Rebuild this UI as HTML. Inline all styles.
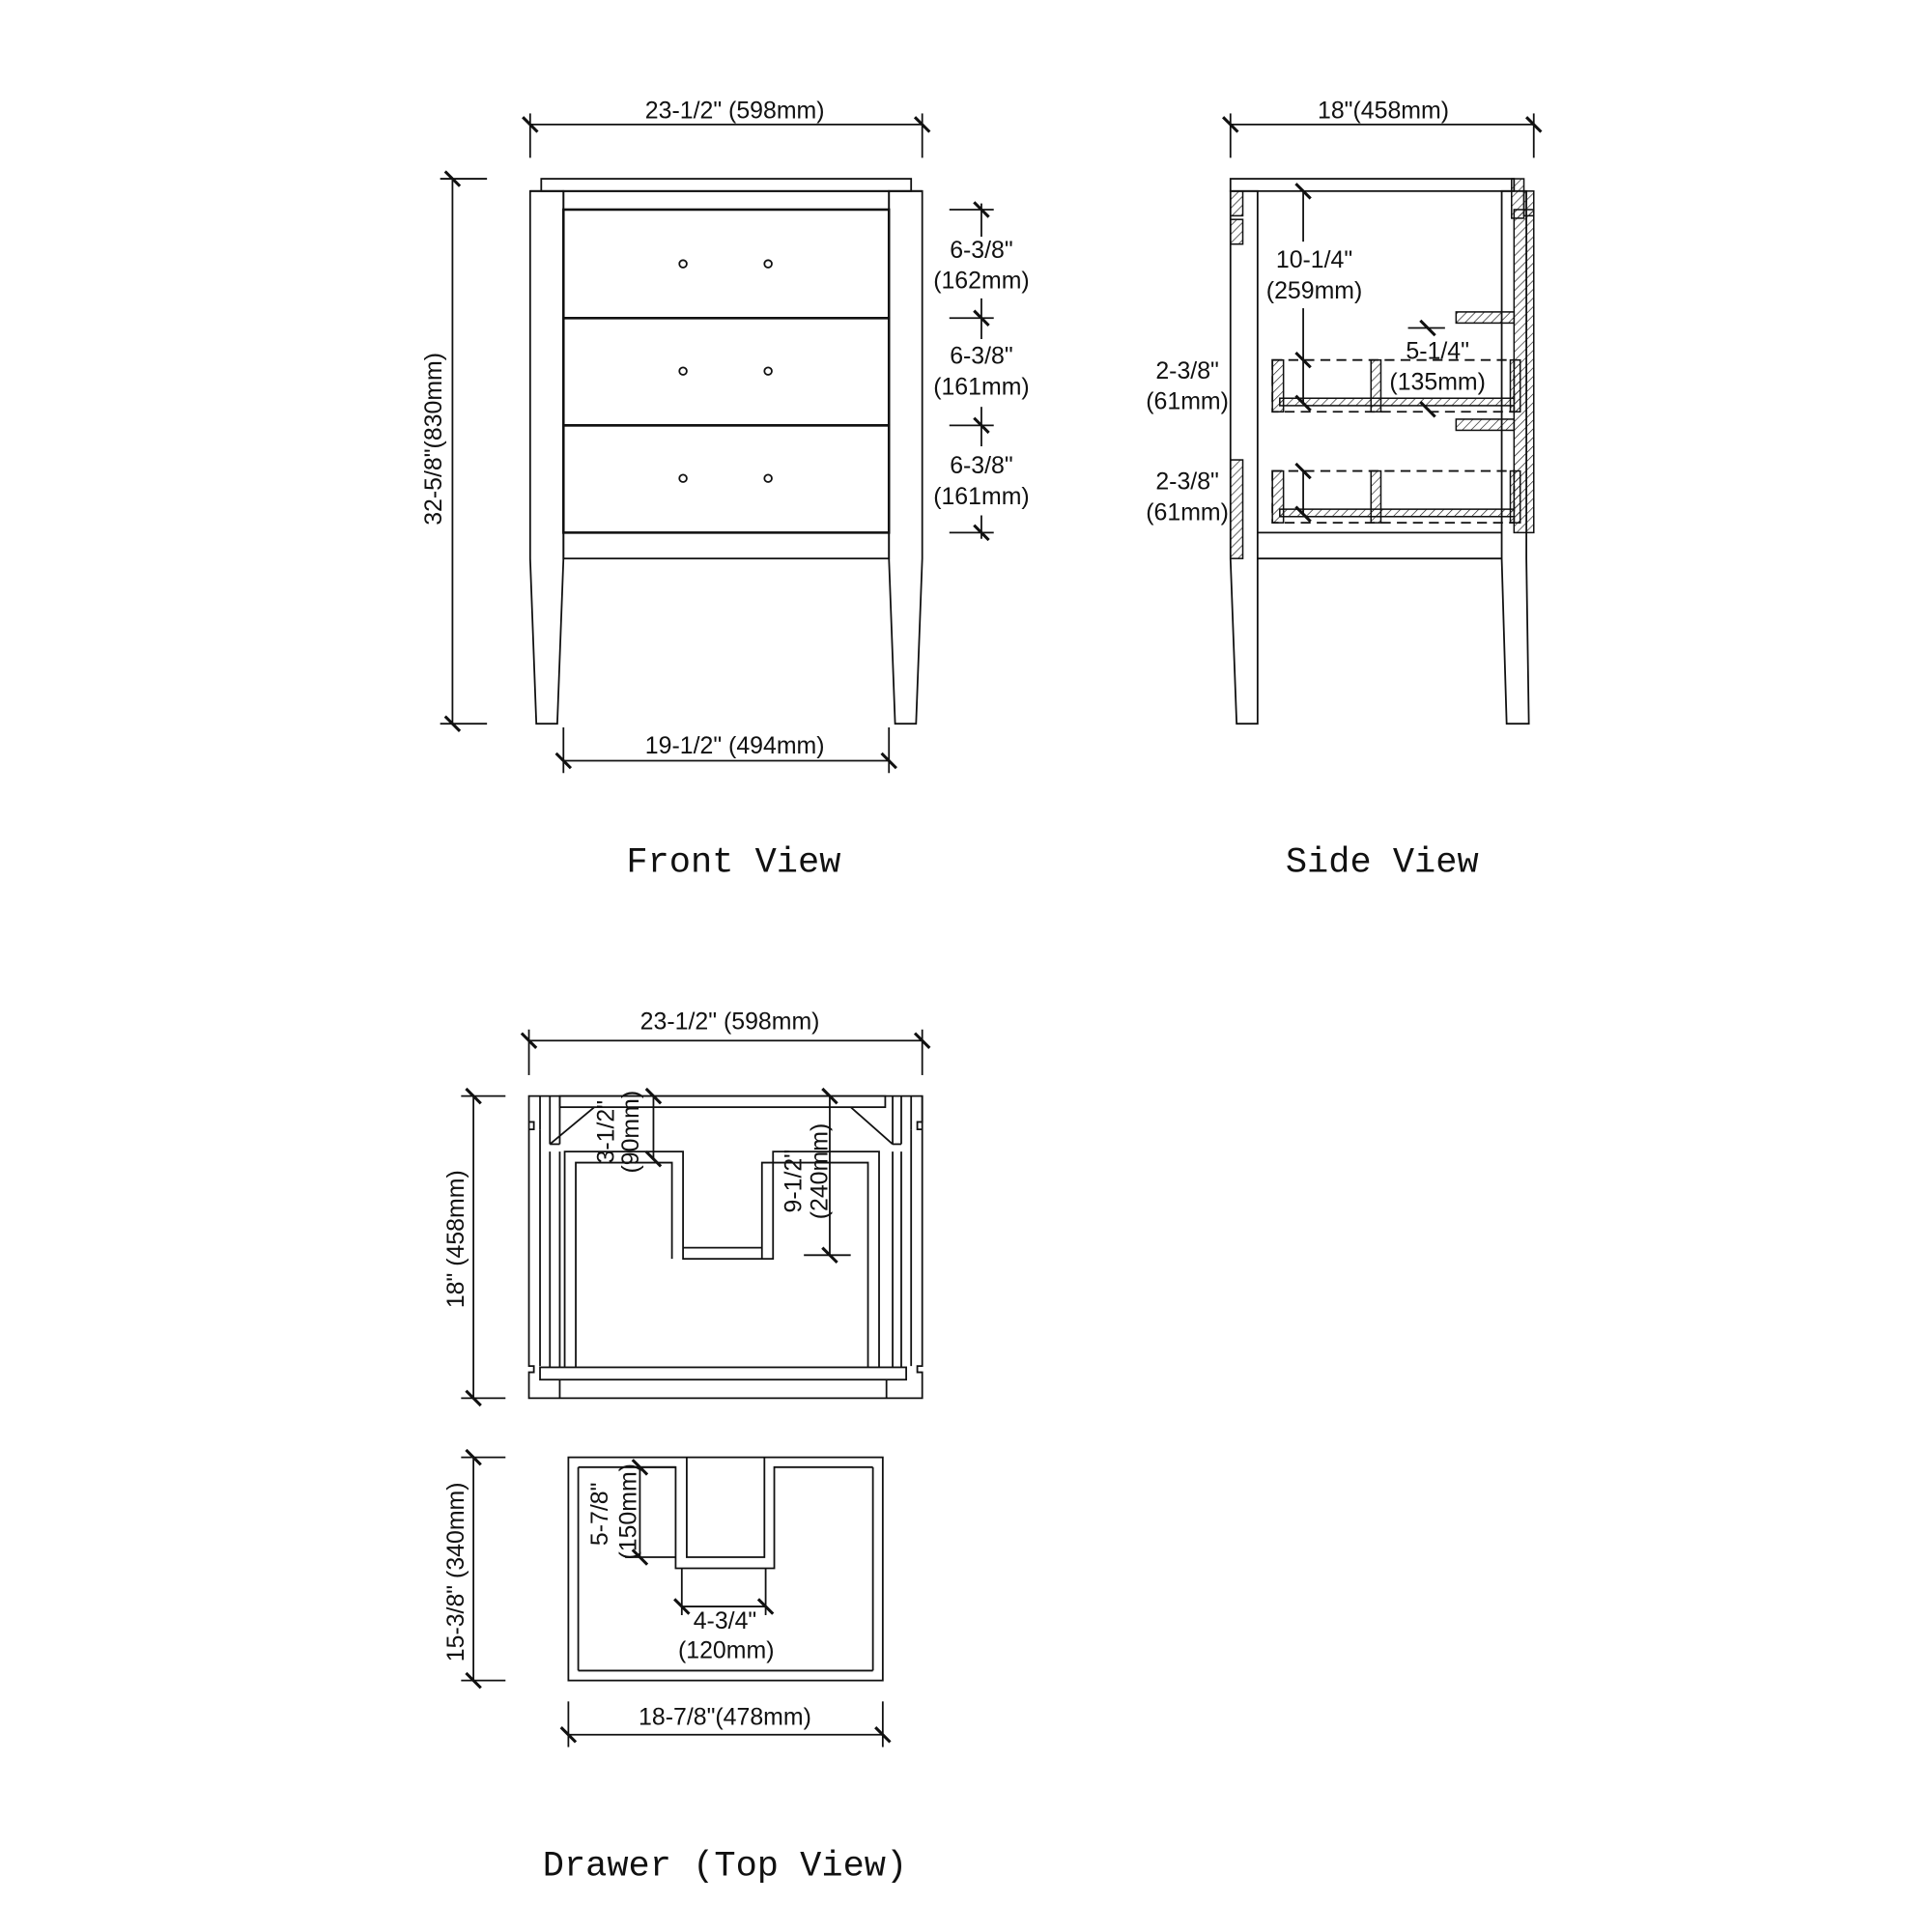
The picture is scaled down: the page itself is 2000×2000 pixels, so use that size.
<!DOCTYPE html>
<html><head><meta charset="utf-8"><style>
html,body{margin:0;padding:0;background:#fff}
svg{display:block}
text{font-family:"Liberation Sans",sans-serif;font-size:19.5px;fill:#111}
.t{font-family:"Liberation Mono",monospace;font-size:29px}
</style></head><body>
<svg width="2000" height="2000" viewBox="0 0 1567 1567" xmlns="http://www.w3.org/2000/svg">
<defs>
<pattern id="h" width="5" height="5" patternUnits="userSpaceOnUse" patternTransform="rotate(45)">
<line x1="0" y1="0" x2="0" y2="5" stroke="#111" stroke-width="1"/></pattern>
</defs>
<g fill="none" stroke="#111" stroke-width="1.4">
<rect x="439" y="145" width="300" height="10"/>
<polyline points="430,155 748,155"/>
<polygon points="430,155 457,155 457,453 452,587 435,587 430,453"/>
<polygon points="721,155 748,155 748,453 743,587 726,587 721,453"/>
<rect x="457" y="155" width="264" height="298"/>
<rect x="457" y="170" width="264" height="88" stroke-width="2"/>
<rect x="457" y="258" width="264" height="87" stroke-width="2"/>
<rect x="457" y="345" width="264" height="87" stroke-width="2"/>
<circle cx="554" cy="214" r="3"/><circle cx="623" cy="214" r="3"/>
<circle cx="554" cy="301" r="3"/><circle cx="623" cy="301" r="3"/>
<circle cx="554" cy="388" r="3"/><circle cx="623" cy="388" r="3"/>
<line x1="430" y1="101" x2="748" y2="101"/><line x1="430" y1="92" x2="430" y2="128"/><line x1="748" y1="92" x2="748" y2="128"/>
<line x1="357" y1="145" x2="395" y2="145"/><line x1="357" y1="587" x2="395" y2="587"/><line x1="367" y1="145" x2="367" y2="587"/>
<line x1="457" y1="590" x2="457" y2="627"/><line x1="721" y1="590" x2="721" y2="627"/><line x1="457" y1="617" x2="721" y2="617"/>
<line x1="770" y1="170" x2="806" y2="170"/><line x1="770" y1="258" x2="806" y2="258"/><line x1="770" y1="345" x2="806" y2="345"/><line x1="770" y1="432" x2="806" y2="432"/>
<line x1="796" y1="165" x2="796" y2="192"/><line x1="796" y1="242" x2="796" y2="275"/><line x1="796" y1="330" x2="796" y2="362"/><line x1="796" y1="418" x2="796" y2="437"/>
<rect x="998" y="145" width="230" height="10"/>
<polygon points="998,155 1020,155 1020,453 1020,587 1003,587 998,453"/>
<polygon points="1218,155 1238,155 1238,453 1240,587 1222,587 1218,453"/>
<line x1="1020" y1="453" x2="1218" y2="453"/>
<line x1="1020" y1="432" x2="1218" y2="432"/>
<line x1="998" y1="101" x2="1244" y2="101"/><line x1="998" y1="92" x2="998" y2="128"/><line x1="1244" y1="92" x2="1244" y2="128"/>
<line x1="1057" y1="155" x2="1057" y2="196"/><line x1="1057" y1="250" x2="1057" y2="328"/>
<line x1="1142" y1="266" x2="1172" y2="266"/>
<line x1="1057" y1="382" x2="1057" y2="418"/>
<g stroke-dasharray="8,5">
<rect x="1032" y="292" width="196" height="42"/>
<rect x="1032" y="382" width="196" height="42"/>
</g>
</g>
<g fill="url(#h)" stroke="#111" stroke-width="1.2">
<rect x="998" y="155" width="10" height="20"/><rect x="998" y="178" width="10" height="20"/>
<rect x="998" y="373" width="10" height="80"/>
<rect x="1226" y="145" width="10" height="32"/>
<rect x="1236" y="155" width="8" height="20"/>
<rect x="1228" y="170" width="16" height="262"/>
<rect x="1181" y="253" width="47" height="9"/><rect x="1181" y="340" width="47" height="9"/>
<rect x="1032" y="292" width="9" height="42"/><rect x="1112" y="292" width="8" height="42"/><rect x="1225" y="292" width="8" height="42"/>
<rect x="1038" y="323" width="190" height="6"/>
<rect x="1032" y="382" width="9" height="42"/><rect x="1112" y="382" width="8" height="42"/><rect x="1225" y="382" width="8" height="42"/>
<rect x="1038" y="413" width="190" height="6"/>
</g>
<g fill="none" stroke="#111" stroke-width="1.4">
<path d="M429,889 H748 V1108 H744 V1113 H748 V1134 H429 V1113 H433 V1108 H429 Z M429,889 V910 H433 V916 H429"/>
<path d="M748,889 V910 H744 V916 H748"/>
<line x1="438" y1="916" x2="438" y2="1108"/><line x1="739" y1="916" x2="739" y2="1108"/>
<line x1="438" y1="889" x2="438" y2="916"/><line x1="739" y1="889" x2="739" y2="916"/>
<rect x="438" y="1109" width="297" height="10"/>
<line x1="454" y1="1119" x2="454" y2="1134"/><line x1="719" y1="1119" x2="719" y2="1134"/>
<rect x="454" y="889" width="264" height="9"/>
<line x1="446" y1="889" x2="446" y2="928"/><line x1="446" y1="934" x2="446" y2="1109"/>
<line x1="454" y1="889" x2="454" y2="928"/><line x1="454" y1="934" x2="454" y2="1109"/>
<line x1="724" y1="889" x2="724" y2="928"/><line x1="724" y1="934" x2="724" y2="1109"/>
<line x1="731" y1="889" x2="731" y2="928"/><line x1="731" y1="934" x2="731" y2="1109"/>
<line x1="446" y1="928" x2="454" y2="928"/><line x1="724" y1="928" x2="731" y2="928"/>
<line x1="446" y1="928" x2="482" y2="898"/><line x1="690" y1="898" x2="724" y2="928"/>
<path d="M458,1109 V934 H554 V1021 H627 V934 H713 V1109"/>
<path d="M467,1109 V943 H545 V1021 M554,1012 H618 V943 H704 V1109 M618,1012 V1021"/>
<line x1="530" y1="889" x2="530" y2="940"/>
<line x1="673" y1="889" x2="673" y2="1018"/><line x1="652" y1="1018" x2="690" y2="1018"/>
<line x1="429" y1="844" x2="748" y2="844"/><line x1="429" y1="835" x2="429" y2="872"/><line x1="748" y1="835" x2="748" y2="872"/>
<line x1="374" y1="889" x2="410" y2="889"/><line x1="374" y1="1134" x2="410" y2="1134"/><line x1="384" y1="889" x2="384" y2="1134"/>
<rect x="461" y="1182" width="255" height="181"/>
<line x1="469" y1="1190" x2="469" y2="1355"/><line x1="708" y1="1190" x2="708" y2="1355"/>
<line x1="469" y1="1355" x2="708" y2="1355"/>
<path d="M469,1190 H548 V1272 H628 V1190 H708"/>
<path d="M557,1182 V1263 H620 V1182"/>
<line x1="507" y1="1190" x2="548" y2="1190"/><line x1="519" y1="1190" x2="519" y2="1263"/><line x1="507" y1="1263" x2="548" y2="1263"/>
<line x1="553" y1="1272" x2="553" y2="1310"/><line x1="621" y1="1272" x2="621" y2="1310"/><line x1="553" y1="1303" x2="621" y2="1303"/>
<line x1="461" y1="1380" x2="461" y2="1417"/><line x1="716" y1="1380" x2="716" y2="1417"/><line x1="461" y1="1407" x2="716" y2="1407"/>
<line x1="374" y1="1182" x2="410" y2="1182"/><line x1="374" y1="1363" x2="410" y2="1363"/><line x1="384" y1="1182" x2="384" y2="1363"/>
</g>
<g stroke="#111" stroke-width="2.4">
<path d="M424,95 l12,12 M742,95 l12,12 M361,139 l12,12 M361,581 l12,12 M451,611 l12,12 M715,611 l12,12
M790,164 l12,12 M790,252 l12,12 M790,339 l12,12 M790,426 l12,12
M992,95 l12,12 M1238,95 l12,12 M1051,149 l12,12 M1051,286 l12,12 M1051,321 l12,12 M1152,260 l12,12 M1152,326 l12,12
M1051,376 l12,12 M1051,411 l12,12
M423,838 l12,12 M742,838 l12,12 M378,883 l12,12 M378,1128 l12,12 M524,883 l12,12 M524,934 l12,12 M667,883 l12,12 M667,1012 l12,12
M378,1176 l12,12 M378,1357 l12,12 M513,1184 l12,12 M513,1257 l12,12 M547,1297 l12,12 M615,1297 l12,12
M455,1401 l12,12 M710,1401 l12,12"/>
</g>
<text x="596" y="96" text-anchor="middle">23-1/2" (598mm)</text>
<text x="358" y="356" text-anchor="middle" transform="rotate(-90 358 356)">32-5/8"(830mm)</text>
<text x="596" y="611" text-anchor="middle">19-1/2" (494mm)</text>
<text x="796" y="209" text-anchor="middle">6-3/8"</text><text x="796" y="234" text-anchor="middle">(162mm)</text>
<text x="796" y="295" text-anchor="middle">6-3/8"</text><text x="796" y="320" text-anchor="middle">(161mm)</text>
<text x="796" y="384" text-anchor="middle">6-3/8"</text><text x="796" y="409" text-anchor="middle">(161mm)</text>
<text x="1122" y="96" text-anchor="middle">18"(458mm)</text>
<text x="1066" y="217" text-anchor="middle">10-1/4"</text><text x="1066" y="242" text-anchor="middle">(259mm)</text>
<text x="1166" y="291" text-anchor="middle">5-1/4"</text><text x="1166" y="316" text-anchor="middle">(135mm)</text>
<text x="963" y="307" text-anchor="middle">2-3/8"</text><text x="963" y="332" text-anchor="middle">(61mm)</text>
<text x="963" y="397" text-anchor="middle">2-3/8"</text><text x="963" y="422" text-anchor="middle">(61mm)</text>
<text class="t" x="595" y="707" text-anchor="middle">Front View</text>
<text class="t" x="1121" y="707" text-anchor="middle">Side View</text>
<text x="592" y="835" text-anchor="middle">23-1/2" (598mm)</text>
<text x="376" y="1005" text-anchor="middle" transform="rotate(-90 376 1005)">18" (458mm)</text>
<text x="498" y="918" text-anchor="middle" transform="rotate(-90 498 918)">3-1/2"</text>
<text x="518" y="918" text-anchor="middle" transform="rotate(-90 518 918)">(90mm)</text>
<text x="650" y="958" text-anchor="middle" transform="rotate(-90 650 958)">9-1/2"</text>
<text x="671" y="950" text-anchor="middle" transform="rotate(-90 671 950)">(240mm)</text>
<text x="376" y="1275" text-anchor="middle" transform="rotate(-90 376 1275)">15-3/8" (340mm)</text>
<text x="493" y="1228" text-anchor="middle" transform="rotate(-90 493 1228)">5-7/8"</text>
<text x="516" y="1226" text-anchor="middle" transform="rotate(-90 516 1226)">(150mm)</text>
<text x="588" y="1321" text-anchor="middle">4-3/4"</text><text x="589" y="1345" text-anchor="middle">(120mm)</text>
<text x="588" y="1399" text-anchor="middle">18-7/8"(478mm)</text>
<text class="t" x="588" y="1521" text-anchor="middle">Drawer (Top View)</text>
</svg>
</body></html>
